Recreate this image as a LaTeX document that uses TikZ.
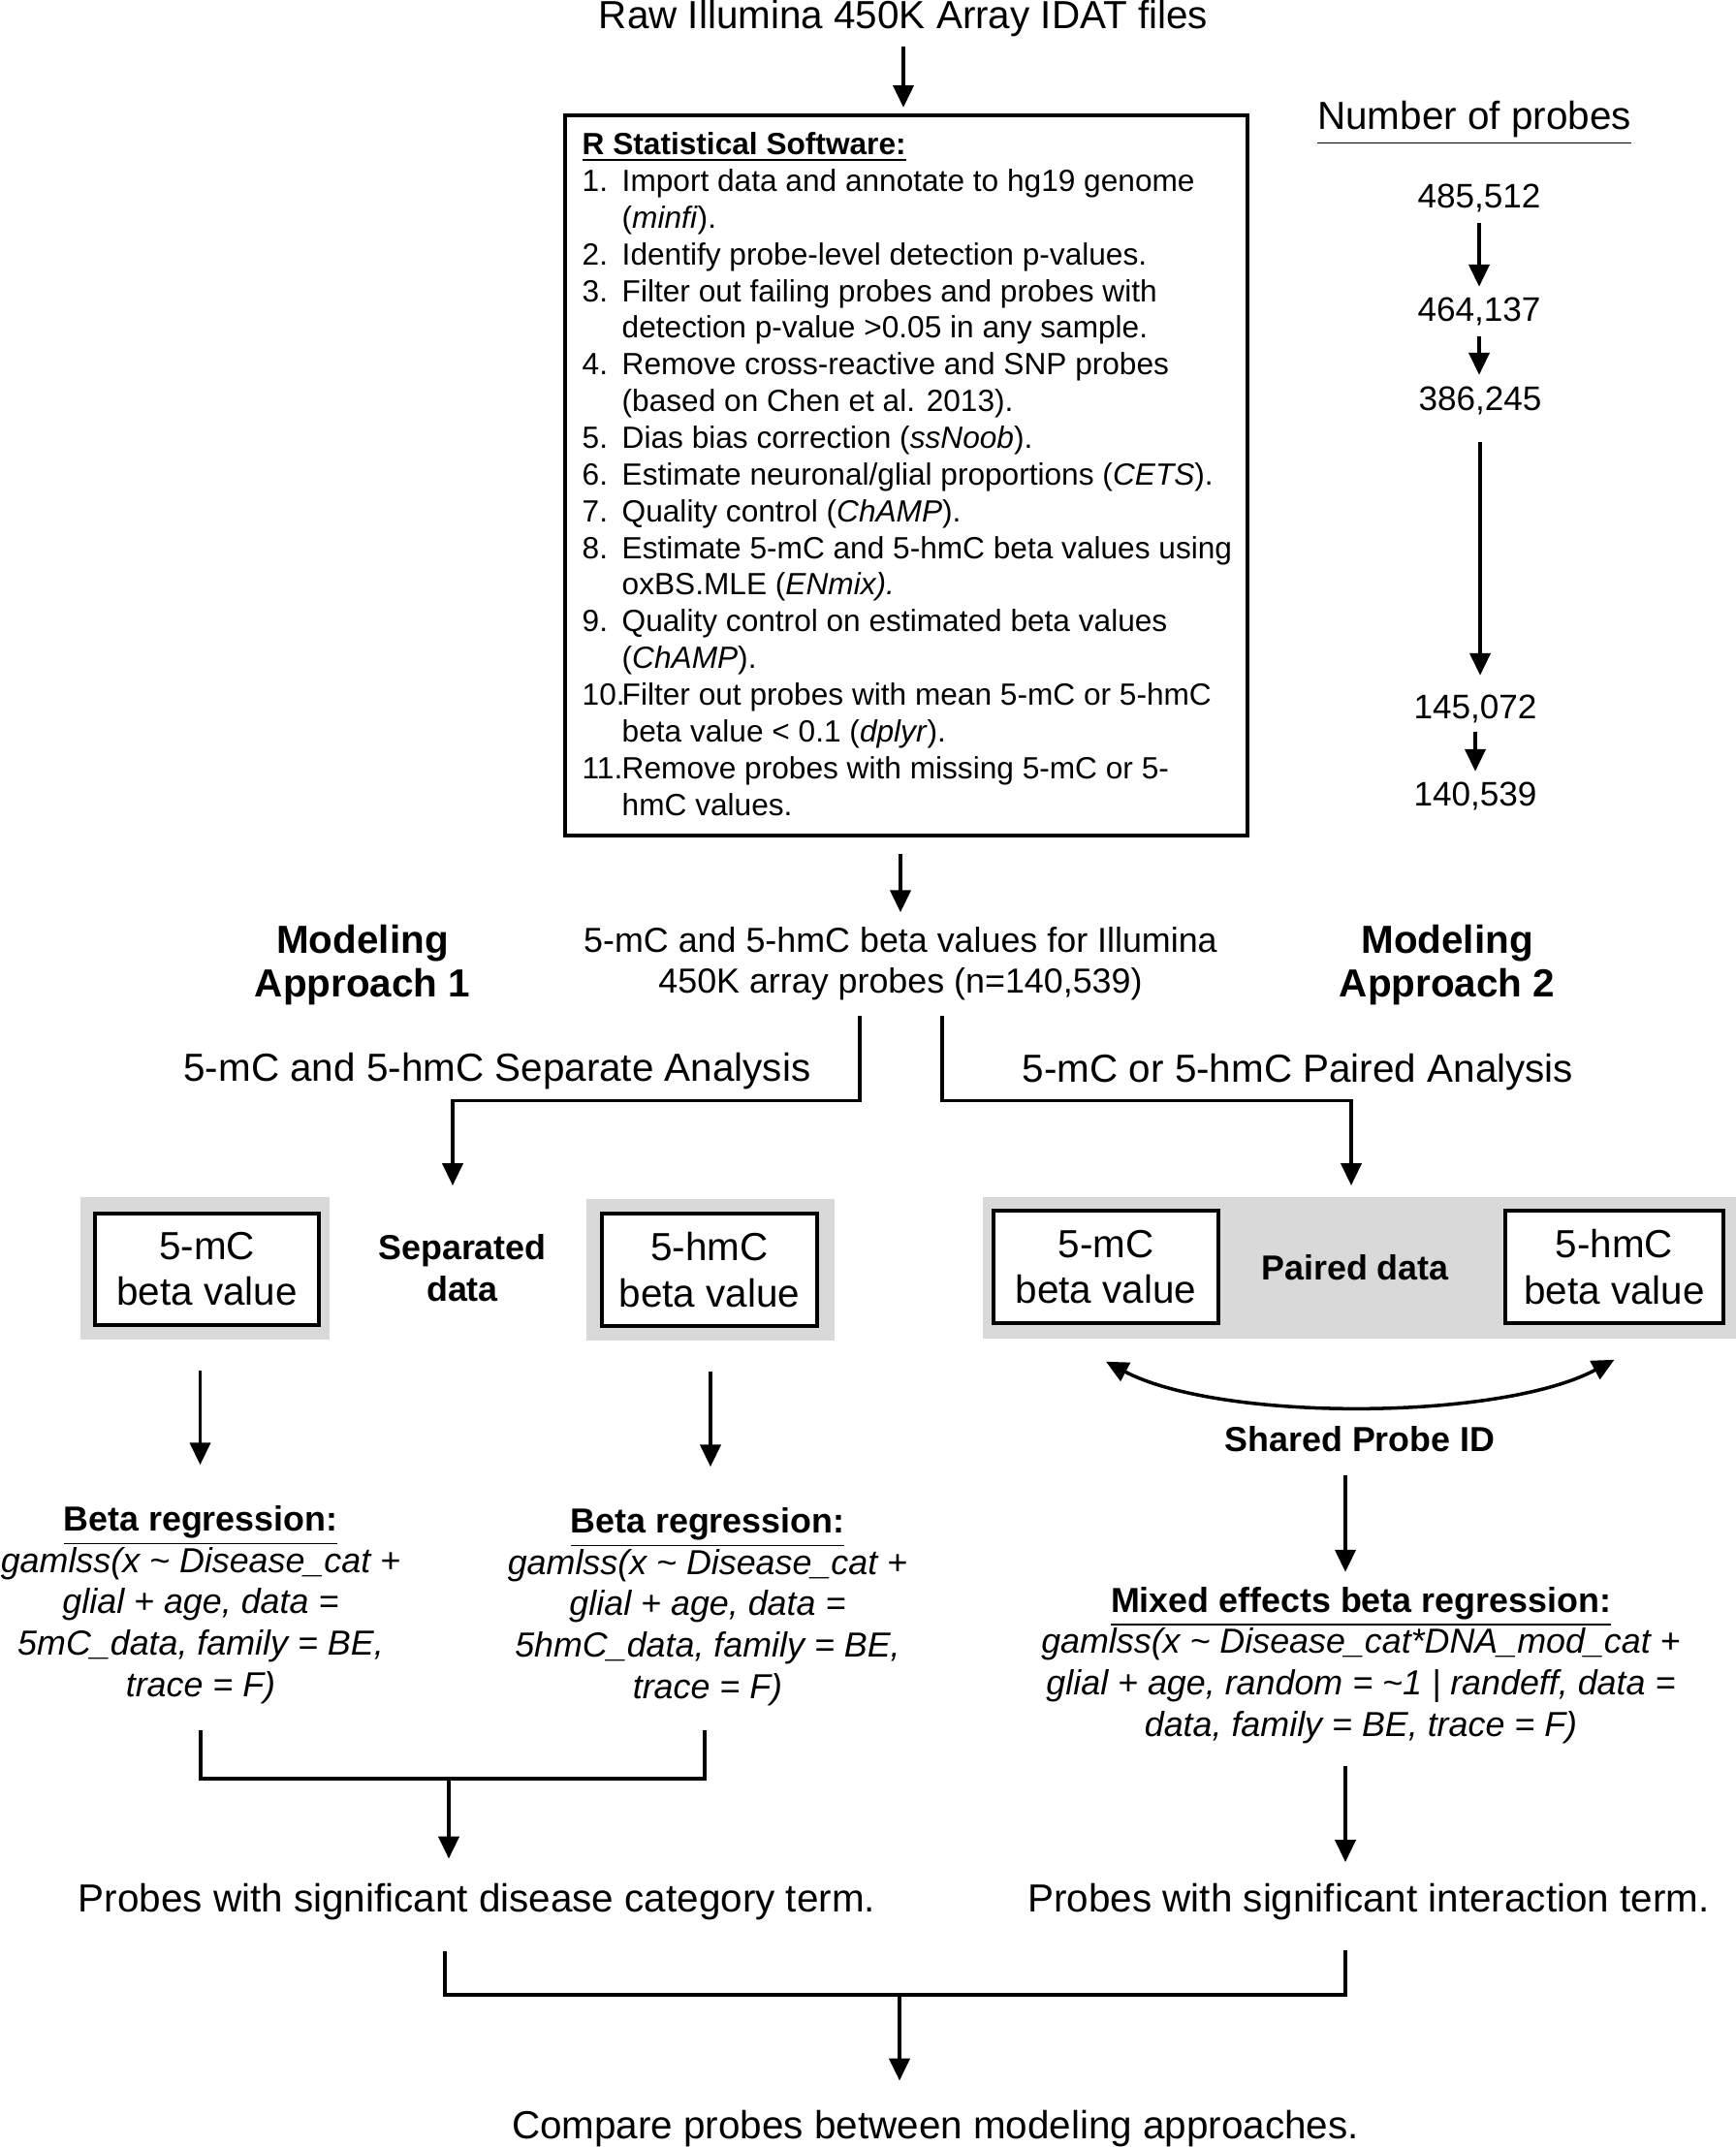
\documentclass[tikz,border=0pt]{standalone}
\usepackage{fontspec}
\setmainfont{Liberation Sans}
\usetikzlibrary{arrows.meta}
\definecolor{PanelGray}{HTML}{D9D9D9}

\begin{document}
\begin{tikzpicture}[
  >={Triangle[width=6pt,length=6.5pt]},
  arrow/.style    = {->, line width=1pt},
  wire/.style     = {line width=1pt},
  bigtxt/.style   = {font=\fontsize{11.5}{13.3}\selectfont, inner sep=0pt, align=center},
  apprtxt/.style  = {font=\fontsize{11.5}{12.8}\selectfont\bfseries, inner sep=0pt, align=center},
  midtxt/.style   = {font=\fontsize{10.2}{11.7}\selectfont, inner sep=0pt, align=center},
  tagtxt/.style   = {font=\fontsize{10.2}{12}\selectfont\bfseries, inner sep=0pt, align=center},
  modeltxt/.style = {font=\fontsize{10.2}{12.1}\selectfont, inner sep=0pt, align=center},
  numtxt/.style   = {font=\fontsize{10}{12}\selectfont, inner sep=0pt},
  panel/.style    = {fill=PanelGray, inner sep=0pt},
  valbox/.style   = {draw, fill=white, line width=1pt, inner sep=0pt, align=center,
                     font=\fontsize{11.5}{13.4}\selectfont}
]
\useasboundingbox (0,0) rectangle (17.91,-22.15);

%% ---- input files and the R pipeline box ------------------------------
\node[bigtxt, anchor=base] (raw) at (9.32,-0.30) {Raw Illumina 450K Array IDAT files};

\node[draw, line width=1.2pt, minimum width=7.04cm, minimum height=7.43cm,
      inner sep=0pt] (rbox) at (9.35,-4.905) {};
\node[anchor=north west, inner sep=0pt, font=\fontsize{9}{10.77}\selectfont]
  (steps) at (6.0,-1.325) {%
  \begin{tabular}{@{}p{0.41cm}@{}l@{}}
  \multicolumn{2}{@{}l@{}}{\underline{\textbf{R Statistical Software:}}}\\
  1. & Import data and annotate to hg19 genome\\
     & (\textit{minfi}).\\
  2. & Identify probe-level detection p-values.\\
  3. & Filter out failing probes and probes with\\
     & detection p-value >0.05 in any sample.\\
  4. & Remove cross-reactive and SNP probes\\
     & (based on Chen et al. 2013).\\
  5. & Dias bias correction (\textit{ssNoob}).\\
  6. & Estimate neuronal/glial proportions (\textit{CETS}).\\
  7. & Quality control (\textit{ChAMP}).\\
  8. & Estimate 5-mC and 5-hmC beta values using\\
     & oxBS.MLE (\textit{ENmix).}\\
  9. & Quality control on estimated beta values\\
     & (\textit{ChAMP}).\\
  10.& Filter out probes with mean 5-mC or 5-hmC\\
     & beta value < 0.1 (\textit{dplyr}).\\
  11.& Remove probes with missing 5-mC or 5-\\
     & hmC values.
  \end{tabular}};

\draw[arrow, shorten <=0.085cm, shorten >=0.06cm] (raw.south) -- (raw.south |- rbox.north);

%% ---- probe counts after each filter -----------------------------------
\node[bigtxt, anchor=base] (nprobes) at (15.21,-1.34) {\underline{Number of probes}};
\node[numtxt, anchor=base] (n1) at (15.26,-2.145) {485,512};
\node[numtxt, anchor=base] (n2) at (15.26,-3.32)  {464,137};
\node[numtxt, anchor=base] (n3) at (15.27,-4.24)  {386,245};
\node[numtxt, anchor=base] (n4) at (15.22,-7.42)  {145,072};
\node[numtxt, anchor=base] (n5) at (15.22,-8.31)  {140,539};

\draw[arrow, shorten <=0.1cm, shorten >=0.11cm] (n1.south) -- (n1.south |- n2.north);
\draw[arrow, shorten <=0.1cm, shorten >=0.12cm] (n2.south) -- (n2.south |- n3.north);
\draw[arrow, shorten <=0.27cm, shorten >=0.2cm] (n3.south) -- (n3.south |- n4.north);
\draw[arrow, shorten <=0.08cm, shorten >=0.1cm] (n4.south) -- (n4.south |- n5.north);

%% ---- pooled beta values, split into the two approaches ---------------
%% (base anchor of a two-line node = baseline of its last line)
\node[midtxt, anchor=base] (pool) at (9.29,-10.24)
  {5-mC and 5-hmC beta values for Illumina\\450K array probes (n=140,539)};
\draw[arrow, shorten <=0.17cm, shorten >=0.15cm] (rbox.south -| pool.north) -- (pool.north);

\node[apprtxt, anchor=base] (appr1) at (3.74,-10.28)  {Modeling\\Approach 1};
\node[apprtxt, anchor=base] (appr2) at (14.93,-10.28) {Modeling\\Approach 2};

\node[bigtxt, anchor=base] (sepan)  at (5.13,-11.15)  {5-mC and 5-hmC Separate Analysis};
\node[bigtxt, anchor=base] (pairan) at (13.39,-11.16) {5-mC or 5-hmC Paired Analysis};

\coordinate (sepin)  at (4.67,-12.23);
\coordinate (pairin) at (13.94,-12.23);
\draw[arrow] ([xshift=-0.42cm, yshift=-0.155cm]pool.south) -- ++(0,-0.88) -| (sepin);
\draw[arrow] ([xshift=0.43cm, yshift=-0.155cm]pool.south) -- ++(0,-0.88) -| (pairin);

%% ---- approach 1: separated data ---------------------------------------
\node[panel, minimum width=2.57cm, minimum height=1.47cm] (mcpanel)  at (2.115,-13.085) {};
\node[panel, minimum width=2.56cm, minimum height=1.46cm] (hmcpanel) at (7.33,-13.10) {};
\node[valbox, minimum width=2.31cm, minimum height=1.15cm] (mcbox)  at (2.135,-13.095) {5-mC\\beta value};
\node[valbox, minimum width=2.22cm, minimum height=1.16cm] (hmcbox) at (7.32,-13.10)   {5-hmC\\beta value};
\node[tagtxt, anchor=base] (sepdata) at (4.77,-13.42) {Separated\\data};

\node[modeltxt, anchor=base] (beta1) at (2.07,-17.5)
  {\underline{\textbf{Beta regression:}}\\
   \textit{gamlss(x \textasciitilde{} Disease\_cat +}\\
   \textit{glial + age, data =}\\
   \textit{5mC\_data, family = BE,}\\
   \textit{trace = F)}};
\node[modeltxt, anchor=base] (beta2) at (7.30,-17.52)
  {\underline{\textbf{Beta regression:}}\\
   \textit{gamlss(x \textasciitilde{} Disease\_cat +}\\
   \textit{glial + age, data =}\\
   \textit{5hmC\_data, family = BE,}\\
   \textit{trace = F)}};

\draw[arrow, shorten <=0.31cm, shorten >=0.42cm] ([xshift=-0.05cm]mcpanel.south) -- ([xshift=-0.05cm]mcpanel.south |- beta1.north);
\draw[arrow, shorten <=0.31cm, shorten >=0.42cm] (hmcpanel.south) -- (hmcpanel.south |- beta2.north);

\coordinate (join1) at (4.63,-18.35);
\draw[wire] ([yshift=-0.27cm]beta1.south) |- (join1) -| ([xshift=-0.03cm, yshift=-0.25cm]beta2.south);

\node[bigtxt, anchor=base] (disterm) at (4.92,-19.72) {Probes with significant disease category term.};
\draw[arrow, shorten >=0.245cm] (join1) -- (join1 |- disterm.north);

%% ---- approach 2: paired data ------------------------------------------
\node[panel, minimum width=7.77cm, minimum height=1.46cm] (pairpanel) at (14.025,-13.08) {};
\node[valbox, minimum width=2.32cm, minimum height=1.16cm] (pmcbox)  at (11.41,-13.07)  {5-mC\\beta value};
\node[valbox, minimum width=2.25cm, minimum height=1.16cm] (phmcbox) at (16.655,-13.07) {5-hmC\\beta value};
\node[tagtxt, anchor=base] (pairdata) at (13.98,-13.2) {Paired data};

\draw[<->, line width=1pt] ([yshift=-0.38cm]pmcbox.south)
  to[bend right=28, looseness=0.65] ([yshift=-0.36cm]phmcbox.south);
\node[tagtxt, anchor=base] (shared) at (14.03,-14.97) {Shared Probe ID};

\node[modeltxt, anchor=base] (mixed) at (14.04,-17.91)
  {\underline{\textbf{Mixed effects beta regression:}}\\
   \textit{gamlss(x \textasciitilde{} Disease\_cat*DNA\_mod\_cat +}\\
   \textit{glial + age, random = \textasciitilde 1 | randeff, data =}\\
   \textit{data, family = BE, trace = F)}};
\draw[arrow, shorten <=0.24cm, shorten >=0.15cm] ([xshift=-0.15cm]shared.south) -- ([xshift=-0.15cm]shared.south |- mixed.north);

\node[bigtxt, anchor=base] (intterm) at (14.12,-19.72) {Probes with significant interaction term.};
\draw[arrow, shorten <=0.23cm, shorten >=0.21cm] ([xshift=-0.16cm]mixed.south) -- ([xshift=-0.16cm]mixed.south |- intterm.north);

%% ---- both approaches merge --------------------------------------------
\coordinate (join2) at (9.28,-20.58);
\draw[wire] ([xshift=-0.33cm, yshift=-0.32cm]disterm.south) |- (join2)
  -| ([xshift=-0.24cm, yshift=-0.31cm]intterm.south);

\node[bigtxt, anchor=base] (compare) at (9.65,-22.06) {Compare probes between modeling approaches.};
\draw[arrow, shorten >=0.295cm] (join2) -- (join2 |- compare.north);

\end{tikzpicture}
\end{document}
